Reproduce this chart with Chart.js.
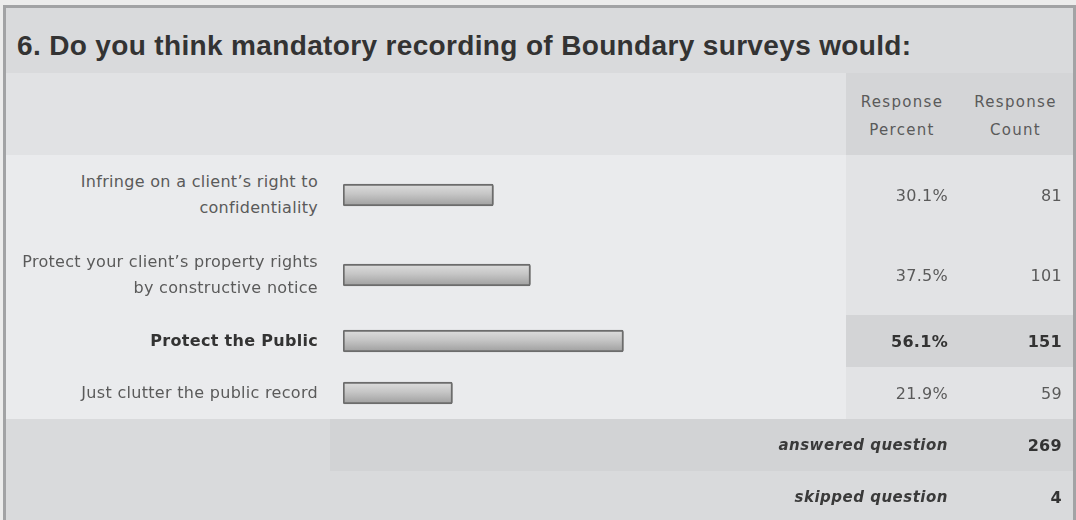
<!DOCTYPE html>
<html>
<head>
<meta charset="utf-8">
<script src="https://cdn.jsdelivr.net/npm/chart.js@4/dist/chart.umd.min.js"></script>
<style>
  body { margin: 0; background: #ececec; width: 1076px; height: 520px; overflow: hidden; }
  #box {
    position: absolute; left: 3px; top: 5px; width: 1067px; height: 530px;
    border: 3px solid #a2a3a5; border-bottom: none; background: #d9dadc;
  }
  #title {
    height: 65px; padding-left: 11px; box-sizing: border-box; padding-top: 9px;
    line-height: 57px; font-family: "Liberation Sans", Arial, sans-serif;
    font-weight: bold; font-size: 28px; letter-spacing: 0.35px; color: #333;
  }
  table { border-collapse: collapse; border-spacing: 0; table-layout: fixed; width: 1067px; }
  td { padding: 0; font-family: "DejaVu Sans", sans-serif; font-size: 16px; letter-spacing: 0.3px; color: #5a5a5a; vertical-align: middle; }
  td.lbl { text-align: right; padding-right: 12px; line-height: 26px; }
  td.pct { text-align: right; padding-right: 10px; }
  td.cnt { text-align: right; padding-right: 11px; }
  td.head { text-align: center; line-height: 28px; font-size: 15px; letter-spacing: 1.3px; padding-top: 3px; }
  .light { background: #eaebed; }
  .mid { background: #e2e3e5; }
  .hilite { background: #d3d4d6; }
  .bold { font-weight: bold; color: #333; }
  canvas { display: block; }
  .foot { font-style: italic; font-weight: bold; color: #3a3a3a; font-size: 15px; letter-spacing: 0.5px; }
</style>
</head>
<body>
<div id="box">
  <div id="title">6. Do you think mandatory recording of Boundary surveys would:</div>
  <table id="tbl">
    <colgroup><col style="width:324px"><col style="width:516px"><col style="width:112px"><col style="width:115px"></colgroup>
  </table>
</div>
<script>
// answer choices (each entry is the lines of the label)
const answerLabels = [
  ["Infringe on a client’s right to", "confidentiality"],
  ["Protect your client’s property rights", "by constructive notice"],
  ["Protect the Public"],
  ["Just clutter the public record"]
];
const responsePercents = [30.1, 37.5, 56.1, 21.9];
const responseCounts = [81, 101, 151, 59];
const headerLabels = [["Response", "Percent"], ["Response", "Count"]];
const answeredCount = 269;
const skippedCount = 4;

const tbl = document.getElementById('tbl');
const topIndex = responseCounts.indexOf(Math.max(...responseCounts));

// header row
let head = tbl.insertRow();
head.style.height = '82px';
head.innerHTML = '<td colspan="2" style="background:#e1e2e4"></td>' +
  '<td class="head" style="background:#d4d5d7">' + headerLabels[0].join('<br>') + '</td>' +
  '<td class="head" style="background:#d4d5d7">' + headerLabels[1].join('<br>') + '</td>';

function barFill(ctx) {
  const chart = ctx.chart;
  const area = chart.chartArea;
  if (!area) return '#bdbdbd';
  const mid = (area.top + area.bottom) / 2;
  const g = chart.ctx.createLinearGradient(0, mid - 11, 0, mid + 11);
  g.addColorStop(0, '#dedede');
  g.addColorStop(0.45, '#c6c6c6');
  g.addColorStop(1, '#9e9e9e');
  return g;
}

for (let i = 0; i < answerLabels.length; i++) {
  const lines = answerLabels[i].length;
  const rowH = lines > 1 ? 80 : 52;
  const bold = i === topIndex ? ' bold' : '';
  const side = i === topIndex ? 'hilite' : 'mid';
  const row = tbl.insertRow();
  row.style.height = rowH + 'px';
  row.innerHTML = '<td class="lbl light' + bold + '">' + answerLabels[i].join('<br>') + '</td>' +
    '<td class="light"><canvas width="516" height="' + rowH + '"></canvas></td>' +
    '<td class="pct ' + side + bold + '">' + responsePercents[i].toFixed(1) + '%</td>' +
    '<td class="cnt ' + side + bold + '">' + responseCounts[i] + '</td>';

  new Chart(row.querySelector('canvas'), {
    type: 'bar',
    data: {
      labels: [answerLabels[i].join(' ')],
      datasets: [{
        data: [responsePercents[i]],
        backgroundColor: barFill,
        borderColor: '#6c6c6c',
        borderWidth: 2,
        borderRadius: 2,
        borderSkipped: false,
        barThickness: 22
      }]
    },
    options: {
      indexAxis: 'y',
      responsive: false,
      animation: false,
      layout: { padding: { left: 13, right: 3, top: 0, bottom: 0 } },
      plugins: { legend: { display: false }, tooltip: { enabled: false } },
      scales: {
        x: { display: false, min: 0, max: 100 },
        y: { display: false }
      }
    }
  });
}

// footer rows
let ans = tbl.insertRow();
ans.style.height = '52px';
ans.innerHTML = '<td style="background:#d9dadc"></td>' +
  '<td colspan="2" class="pct foot" style="background:#d2d3d5">answered question</td>' +
  '<td class="cnt bold" style="background:#d2d3d5">' + answeredCount + '</td>';
let skp = tbl.insertRow();
skp.style.height = '52px';
skp.innerHTML = '<td></td><td colspan="2" class="pct foot">skipped question</td>' +
  '<td class="cnt bold">' + skippedCount + '</td>';
</script>
</body>
</html>
